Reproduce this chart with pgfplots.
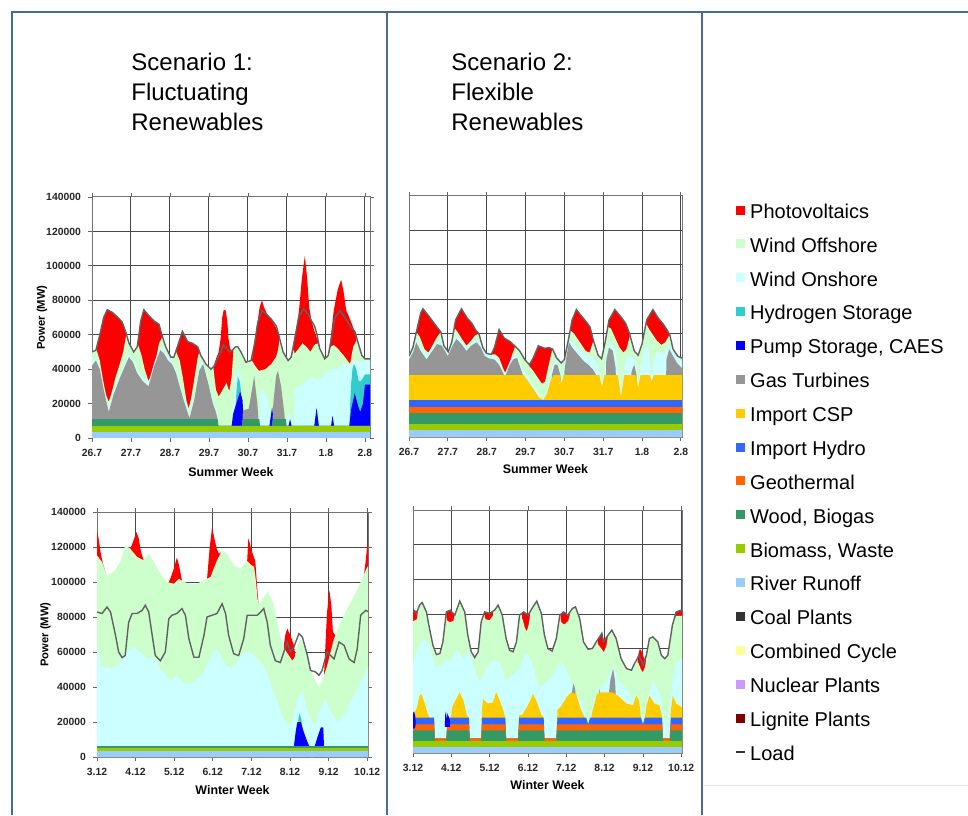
\documentclass[border=0pt]{standalone}
\usepackage{pgfplots}
\pgfplotsset{compat=1.18}
\usepackage{fontspec}
\setmainfont{Liberation Sans}
\definecolor{cPV}{HTML}{FF0000}
\definecolor{cOff}{HTML}{CCFFCC}
\definecolor{cOn}{HTML}{CCFFFF}
\definecolor{cH2}{HTML}{33CCCC}
\definecolor{cPump}{HTML}{0000FF}
\definecolor{cGas}{HTML}{969696}
\definecolor{cCSP}{HTML}{FFCC00}
\definecolor{cHyd}{HTML}{3366FF}
\definecolor{cGeo}{HTML}{FF6600}
\definecolor{cWood}{HTML}{339966}
\definecolor{cBio}{HTML}{99CC00}
\definecolor{cRiv}{HTML}{99CCFF}
\definecolor{cCoal}{HTML}{333333}
\definecolor{cCC}{HTML}{FFFF99}
\definecolor{cNuc}{HTML}{CC99FF}
\definecolor{cLig}{HTML}{800000}
\definecolor{cFrame}{HTML}{4A6A9C}
\pgfplotsset{
  panel/.style={
    scale only axis, xmin=0, ymin=0, ymax=140,
    xtick={0,1,2,3,4,5,6,7}, ytick={0,20,40,60,80,100,120,140},
    grid=major, grid style={black!72, line width=0.5pt},
    axis line style={black!55, line width=0.5pt},
    tick style={black!60, line width=0.4pt},
    tick align=outside, major tick length=2pt,
    xticklabel style={font=\bfseries\fontsize{5.2}{6}\selectfont, text=black!85},
    yticklabel style={font=\bfseries\fontsize{5.2}{6}\selectfont, text=black!85},
    xlabel style={font=\bfseries\fontsize{6.2}{7}\selectfont, anchor=center},
    ylabel style={font=\bfseries\fontsize{5.6}{6}\selectfont, anchor=center},
    clip=true,
  },
  area/.style={fill=#1, draw=none},
  loadline/.style={draw=black!62, line width=0.7pt},
  summer/.style={xticklabels={26.7,27.7,28.7,29.7,30.7,31.7,1.8,2.8}, xlabel={Summer Week}},
  winter/.style={xticklabels={3.12,4.12,5.12,6.12,7.12,8.12,9.12,10.12}, xlabel={Winter Week}},
  yfull/.style={yticklabels={0,20000,40000,60000,80000,100000,120000,140000}, ylabel={Power (MW)}},
  ynone/.style={yticklabels={}, ytick style={draw=none}},
}
\begin{document}
\begin{tikzpicture}
\path[use as bounding box] (0pt,0pt) rectangle (484pt,407.5pt);
\draw[cFrame, line width=1pt] (6pt,0pt) -- (6pt,401.5pt) -- (484pt,401.5pt);
\draw[cFrame, line width=1pt] (193.5pt,0pt) -- (193.5pt,401.5pt);
\draw[cFrame, line width=1pt] (351pt,0pt) -- (351pt,401.5pt);
\draw[black!10, line width=0.5pt] (352pt,15pt) -- (484pt,15pt);
\node[anchor=west, inner sep=0pt, align=left, font=\fontsize{12}{15}\selectfont] at (65.5pt,361.5pt) {Scenario 1:\\Fluctuating\\Renewables};
\node[anchor=west, inner sep=0pt, align=left, font=\fontsize{12}{15}\selectfont] at (225.5pt,361.5pt) {Scenario 2:\\Flexible\\Renewables};

% ---------------- Scenario 1, summer ----------------
\begin{axis}[panel, summer, yfull, at={(46pt,188.5pt)}, anchor=south west,
  width=139pt, height=120.5pt, xmax=7.13,
  xlabel style={at={(axis description cs:0.5,-0.141)}},
  ylabel style={at={(axis description cs:-0.18,0.5)}}]
\addplot[area=cPV] coordinates {(0.12,51.5)(0.2,60)(0.3,70)(0.39,74.5)(0.52,73)(0.64,70.5)(0.77,67.5)(0.86,62)(0.88,60)} \closedcycle;
\addplot[area=cPV] coordinates {(1.17,55)(1.25,68)(1.33,74.5)(1.46,71)(1.59,68)(1.72,66)(1.79,60)(1.81,59)} \closedcycle;
\addplot[area=cPV] coordinates {(2.15,50.5)(2.19,53)(2.32,62)(2.45,56)(2.58,55)(2.71,53)(2.77,50)} \closedcycle;
\addplot[area=cPV] coordinates {(3.11,41)(3.18,46)(3.25,50)(3.3,58)(3.34,70)(3.38,74.5)(3.43,74)(3.47,68)(3.5,58)(3.54,52)(3.58,51)(3.63,51.5)} \closedcycle;
\addplot[area=cPV] coordinates {(4.1,45)(4.15,52)(4.2,60)(4.25,68)(4.3,76)(4.36,80)(4.41,76)(4.47,73)(4.55,70)(4.62,68)(4.7,65)(4.76,62)(4.81,57)} \closedcycle;
\addplot[area=cPV] coordinates {(5.08,46)(5.18,55)(5.25,65)(5.31,74)(5.38,92)(5.46,106)(5.52,92)(5.57,76)(5.63,68)(5.72,61)(5.8,56)(5.84,52)} \closedcycle;
\addplot[area=cPV] coordinates {(6.07,48)(6.12,58)(6.2,74)(6.3,86)(6.39,92)(6.46,84)(6.52,74)(6.6,70)(6.67,66)(6.73,62)(6.79,57)} \closedcycle;
\addplot[area=cOff] coordinates {(0,50)(0.1,51)(0.12,51)(0.2,45)(0.28,34)(0.36,25)(0.43,21)(0.5,26)(0.6,35)(0.7,42)(0.8,50)(0.88,60)(0.95,55)(1.07,50)(1.16,53)(1.17,55)(1.27,48)(1.35,40)(1.45,33)(1.55,38)(1.65,47)(1.72,55)(1.81,59)(1.89,53)(2.02,47)(2.1,47)(2.15,50.5)(2.25,45)(2.33,35)(2.42,22)(2.48,17)(2.55,24)(2.65,38)(2.72,48)(2.77,50)(2.79,48)(2.92,43)(3.05,40)(3.11,41)(3.18,28)(3.25,24)(3.35,28)(3.45,32)(3.52,27)(3.58,35)(3.63,51.5)(3.68,53)(3.74,53)(3.82,50)(3.95,44)(4.08,45)(4.1,45)(4.18,42)(4.28,39)(4.45,40)(4.6,43)(4.72,47)(4.77,51)(4.81,57)(4.9,50)(5.03,45)(5.08,46)(5.15,52)(5.2,49)(5.3,52)(5.4,55)(5.5,53)(5.6,50)(5.7,54)(5.78,55)(5.84,52)(5.97,46)(6.06,48)(6.07,48)(6.12,53)(6.2,54)(6.3,52)(6.45,48)(6.55,45)(6.62,43)(6.7,53)(6.79,57)(6.83,55)(6.92,48)(7,46)(7.13,46)} \closedcycle;
\addplot[area=cOn] coordinates {(0,44)(0.1,47)(0.2,42)(0.3,30)(0.43,17)(0.55,27)(0.7,36)(0.85,44)(0.95,49)(1.05,46)(1.15,40)(1.3,35)(1.45,32)(1.6,44)(1.75,53)(1.85,51)(1.95,47)(2.05,45)(2.15,40)(2.35,24)(2.5,13.5)(2.62,24)(2.75,41)(2.85,45)(3.0,32)(3.1,22)(3.18,17)(3.22,13)(3.25,5)(3.58,5)(3.62,20)(3.68,35)(3.74,40)(3.8,38)(3.86,20)(3.9,5)(4.29,5)(4.31,28)(4.4,28)(4.5,22)(4.58,14)(4.62,5)(4.97,5)(5.0,12)(5.05,15)(5.12,10)(5.17,5)(5.2,28)(5.35,30)(5.5,33)(5.65,36)(5.8,33)(5.95,37)(6.1,40)(6.3,40)(6.45,43)(6.6,42)(6.75,45)(6.9,44)(7,45)(7.13,45)} \closedcycle;
\addplot[area=cH2] coordinates {(3.66,7)(3.7,25)(3.74,36)(3.8,32)(3.84,22)(3.86,7)} \closedcycle;
\addplot[area=cH2] coordinates {(6.6,7)(6.64,30)(6.68,40)(6.72,43)(6.78,40)(6.84,33)(6.9,33)(6.95,35)(7.0,37)(7.13,37)} \closedcycle;
\addplot[area=cPump] coordinates {(3.58,7)(3.62,14)(3.7,20)(3.8,27)(3.86,22)(3.9,7)} \closedcycle;
\addplot[area=cPump] coordinates {(4.55,7)(4.62,18)(4.67,7)} \closedcycle;
\addplot[area=cPump] coordinates {(5.04,7)(5.08,11)(5.12,7)} \closedcycle;
\addplot[area=cPump] coordinates {(5.7,7)(5.76,17.5)(5.82,7)} \closedcycle;
\addplot[area=cPump] coordinates {(6.13,7)(6.17,13)(6.21,7)} \closedcycle;
\addplot[area=cPump] coordinates {(6.6,7)(6.65,17)(6.74,26)(6.82,19)(6.88,15)(6.95,20)(7.0,31)(7.13,31)} \closedcycle;
\addplot[area=cGas] coordinates {(0,42)(0.1,45)(0.2,40)(0.3,28)(0.43,15)(0.55,25)(0.7,34)(0.85,42)(0.95,47)(1.05,44)(1.15,38)(1.3,33)(1.45,30)(1.6,42)(1.75,51)(1.85,49)(1.95,45)(2.05,43)(2.15,38)(2.35,22)(2.5,11.5)(2.62,22)(2.75,39)(2.85,43)(3.0,30)(3.1,20)(3.18,15)(3.22,11)(3.24,5)(3.85,5)(3.87,16)(4.02,17)(4.08,25)(4.16,36)(4.24,20)(4.29,5)(4.62,5)(4.65,20)(4.72,36)(4.77,39)(4.85,30)(4.93,15)(4.97,5)(7.13,5)} \closedcycle;
\addplot[area=cWood] coordinates {(0,11)(3.22,11)(3.24,7.2)(3.85,7.2)(3.87,11)(4.29,11)(4.31,7.2)(4.62,7.2)(4.64,11)(4.97,11)(4.99,7.2)(7.13,7.2)} \closedcycle;
\addplot[area=cBio] coordinates {(0,7.2)(7.13,7.2)} \closedcycle;
\addplot[area=cRiv] coordinates {(0,3.7)(7.13,3.7)} \closedcycle;
\addplot[loadline] coordinates {(0,50)(0.1,51)(0.2,60)(0.3,70)(0.39,74.5)(0.52,73)(0.64,70.5)(0.77,67.5)(0.86,62)(0.95,55)(1.07,50)(1.16,53)(1.25,68)(1.33,74.5)(1.46,71)(1.59,68)(1.72,66)(1.79,60)(1.89,53)(2.02,47)(2.1,47)(2.19,53)(2.32,62)(2.45,56)(2.58,55)(2.71,53)(2.79,48)(2.92,43)(3.05,40)(3.14,42)(3.22,46)(3.3,50)(3.37,54)(3.45,52)(3.52,50)(3.6,51)(3.68,53)(3.74,53)(3.82,50)(3.95,44)(4.08,45)(4.17,55)(4.25,67)(4.36,74)(4.47,72)(4.6,69)(4.73,65)(4.81,58)(4.9,50)(5.03,45)(5.11,47)(5.2,58)(5.31,71)(5.43,75)(5.54,72)(5.63,68)(5.71,65)(5.77,60)(5.84,52)(5.97,46)(6.06,48)(6.14,58)(6.23,70)(6.36,74)(6.49,70)(6.62,65)(6.74,62)(6.83,55)(6.92,48)(7,46)(7.13,46)};
\end{axis}

% ---------------- Scenario 2, summer ----------------
\begin{axis}[panel, summer, ynone, at={(204.5pt,189pt)}, anchor=south west,
  width=136.5pt, height=120.5pt, xmax=7.03,
  xlabel style={at={(axis description cs:0.5,-0.133)}}]
\addplot[area=cPV] coordinates {(0.18,61)(0.2,62)(0.3,72)(0.36,74.5)(0.5,70.5)(0.65,66)(0.75,63)(0.82,61)} \closedcycle;
\addplot[area=cPV] coordinates {(1.17,64)(1.2,68)(1.35,74.5)(1.5,69)(1.62,66)(1.72,62)(1.8,60)} \closedcycle;
\addplot[area=cPV] coordinates {(2.13,48.5)(2.2,52)(2.32,62.4)(2.45,57.5)(2.6,55.5)(2.72,53)(2.75,52.5)} \closedcycle;
\addplot[area=cPV] coordinates {(3.08,41.5)(3.2,46)(3.33,53)(3.5,51.5)(3.6,52)(3.7,51)(3.72,50.5)} \closedcycle;
\addplot[area=cPV] coordinates {(4.14,61)(4.2,68)(4.31,74)(4.45,70)(4.56,67)(4.66,64)(4.75,56)} \closedcycle;
\addplot[area=cPV] coordinates {(5.11,63)(5.15,68)(5.3,74)(5.45,70)(5.58,66)(5.68,60)(5.7,58)} \closedcycle;
\addplot[area=cPV] coordinates {(6.09,64)(6.12,68)(6.28,74)(6.42,69)(6.55,65.5)(6.65,62)(6.72,59)} \closedcycle;
\addplot[area=cOff] coordinates {(0,47)(0.1,52)(0.19,61)(0.28,58)(0.4,51)(0.5,49)(0.6,53)(0.72,58)(0.82,61)(0.9,53)(1.01,49.5)(1.1,55)(1.18,63)(1.25,61)(1.36,57)(1.48,53)(1.6,56)(1.7,59)(1.8,60)(1.9,52)(2.0,48.5)(2.12,48)(2.22,48)(2.32,46)(2.42,40)(2.48,37)(2.58,42)(2.66,48)(2.74,53)(2.85,50)(2.98,45)(3.1,41)(3.18,39)(3.3,35)(3.42,31)(3.5,32)(3.59,41)(3.68,50)(3.72,51)(3.8,46)(3.92,43)(4.0,45)(4.1,56)(4.15,62)(4.25,60)(4.4,55)(4.55,50)(4.65,49)(4.75,56)(4.87,47.5)(4.96,45.5)(5.05,55)(5.12,64)(5.2,63)(5.3,58)(5.42,52)(5.52,49)(5.6,51)(5.69,59)(5.8,50)(5.9,47.5)(6.0,54)(6.1,66)(6.2,62)(6.38,56)(6.5,53.5)(6.6,55)(6.7,59)(6.72,59)(6.8,51)(6.92,47)(7.0,46)(7.03,46)} \closedcycle;
\addplot[area=cOn] coordinates {(0,47)(0.1,51)(0.19,57)(0.3,52)(0.45,47)(0.6,52)(0.72,56)(0.85,55)(1.0,49)(1.12,55)(1.22,59)(1.35,56)(1.48,52)(1.6,55)(1.74,57)(1.85,54)(1.95,49)(2.08,47.5)(2.2,47)(2.32,44)(2.47,37)(2.6,44)(2.68,47)(2.78,48)(2.94,38)(3.0,37)(3.2,31)(3.35,25)(3.46,21)(3.55,28)(3.62,36)(3.68,40)(3.75,44)(3.82,44)(3.9,38)(3.93,33)(3.98,40)(4.05,48)(4.12,56)(4.2,56)(4.35,52)(4.5,49)(4.65,47)(4.8,45)(4.9,40)(4.97,30)(5.03,40)(5.1,52)(5.2,55)(5.3,52)(5.4,35)(5.46,25)(5.52,38)(5.6,47)(5.75,46)(5.85,44)(5.9,30)(5.96,40)(6.05,50)(6.15,55)(6.25,35)(6.3,45)(6.4,50)(6.55,48)(6.65,53)(6.75,52)(6.85,48)(6.95,45)(7.03,44)} \closedcycle;
\addplot[area=cGas] coordinates {(0,45)(0.1,49)(0.19,55)(0.3,50)(0.45,45)(0.6,50)(0.72,54)(0.85,53)(1.0,47)(1.12,53)(1.22,57)(1.35,54)(1.48,50)(1.6,53)(1.74,55)(1.85,52)(1.95,47)(2.08,45.5)(2.2,45)(2.32,42)(2.47,35)(2.6,42)(2.68,45)(2.78,46)(2.94,35.5)(2.96,10)(3.66,10)(3.68,36)(3.75,42)(3.82,42)(3.9,36)(3.92,10)(3.98,10)(4.0,38)(4.05,46)(4.12,55)(4.2,52)(4.35,48)(4.5,44)(4.62,42)(4.74,39)(4.82,36)(4.85,10)(5.05,10)(5.08,45)(5.15,52)(5.25,50)(5.32,40)(5.36,10)(5.7,10)(5.73,38)(5.8,42)(5.86,36)(5.88,10)(6.6,10)(6.63,45)(6.7,51)(6.8,47)(6.9,43)(7.03,40)} \closedcycle;
\addplot[area=cCSP] coordinates {(0,36)(2.95,36)(3.05,33)(3.2,28)(3.35,23)(3.46,21.5)(3.55,25)(3.65,33)(3.72,36)(3.88,36)(3.93,31)(3.98,36)(4.9,36)(4.97,29)(5.03,36)(5.38,36)(5.46,23.5)(5.54,36)(5.85,36)(5.9,28.5)(5.96,36)(6.2,36)(6.25,32)(6.3,36)(7.03,36)} \closedcycle;
\addplot[area=cHyd] coordinates {(0,21.5)(7.03,21.5)} \closedcycle;
\addplot[area=cGeo] coordinates {(0,17.5)(7.03,17.5)} \closedcycle;
\addplot[area=cWood] coordinates {(0,13.7)(7.03,13.7)} \closedcycle;
\addplot[area=cBio] coordinates {(0,7.8)(7.03,7.8)} \closedcycle;
\addplot[area=cRiv] coordinates {(0,4)(7.03,4)} \closedcycle;
\addplot[loadline] coordinates {(0,47)(0.1,52)(0.2,62)(0.3,72)(0.36,74.5)(0.5,70.5)(0.65,66)(0.75,63)(0.82,61)(0.9,53)(1.01,49.5)(1.1,55)(1.2,68)(1.35,74.5)(1.5,69)(1.62,66)(1.72,62)(1.8,60)(1.9,52)(2.0,48.5)(2.12,48)(2.2,52)(2.32,62.4)(2.45,57.5)(2.6,55.5)(2.72,53)(2.85,50)(2.98,45)(3.1,42)(3.2,46)(3.33,53)(3.5,51.5)(3.6,52)(3.7,51)(3.8,46)(3.92,43)(4.0,45)(4.1,56)(4.2,68)(4.31,74)(4.45,70)(4.56,67)(4.66,64)(4.75,56)(4.87,47.5)(4.96,45.5)(5.05,55)(5.15,68)(5.3,74)(5.45,70)(5.58,66)(5.68,60)(5.8,50)(5.9,47.5)(6.0,54)(6.12,68)(6.28,74)(6.42,69)(6.55,65.5)(6.65,62)(6.72,59)(6.8,51)(6.92,47)(7.0,46)(7.03,46)};
\end{axis}

% ---------------- Scenario 1, winter ----------------
\begin{axis}[panel, winter, yfull, at={(48.5pt,29pt)}, anchor=south west,
  width=135.5pt, height=122.5pt, xmax=7.02,
  xlabel style={at={(axis description cs:0.5,-0.135)}},
  ylabel style={at={(axis description cs:-0.19,0.5)}}]
\addplot[area=cPV] coordinates {(0,129.5)(0.04,125)(0.1,116)(0.16,110)(0.22,106)} \closedcycle;
\addplot[area=cPV] coordinates {(0.86,119)(0.9,121)(0.95,124)(1.02,128.6)(1.08,125)(1.14,117)(1.21,112.4)} \closedcycle;
\addplot[area=cPV] coordinates {(1.86,100)(1.9,102)(1.99,107.6)(2.07,114)(2.12,110)(2.2,101)} \closedcycle;
\addplot[area=cPV] coordinates {(2.85,101.5)(2.92,120)(2.98,131)(3.03,126)(3.1,119)(3.16,116)(3.2,117)} \closedcycle;
\addplot[area=cPV] coordinates {(3.89,112)(3.92,125)(3.96,122)(4.02,117)(4.1,112)(4.14,100)(4.18,88)(4.22,87)} \closedcycle;
\addplot[area=cPV] coordinates {(4.84,63.8)(4.88,70)(4.93,73.3)(5.01,69.5)(5.1,63.8)(5.14,58)} \closedcycle;
\addplot[area=cPV] coordinates {(5.88,46.7)(5.92,65)(5.96,82.9)(6.02,95.2)(6.07,86.7)(6.11,71.4)(6.16,70)(6.18,70)} \closedcycle;
\addplot[area=cPV] coordinates {(6.87,101)(6.91,103)(6.96,112)(7.0,121)(7.03,122)} \closedcycle;
\addplot[area=cOff] coordinates {(0,115.2)(0.13,111.4)(0.26,103.8)(0.43,105.7)(0.6,111.4)(0.73,121)(0.86,119)(1.04,114.3)(1.21,112.4)(1.34,116.2)(1.47,111.4)(1.64,104.8)(1.82,100)(1.99,99)(2.12,101.9)(2.25,100)(2.42,99)(2.59,99)(2.77,101)(2.94,102.9)(3.11,112.4)(3.24,118)(3.37,116.2)(3.54,109.5)(3.72,107.6)(3.8,110)(3.89,112)(3.98,110)(4.07,108.6)(4.12,100)(4.16,90)(4.2,87)(4.28,90)(4.37,93)(4.45,94)(4.58,86.7)(4.71,73)(4.8,63.8)(4.88,61)(4.97,58)(5.06,55)(5.12,57)(5.19,64)(5.27,67)(5.36,65.7)(5.49,54)(5.62,44.8)(5.75,40)(5.83,43)(5.88,46.7)(5.96,52)(6.05,60)(6.14,67.6)(6.31,77)(6.48,84.8)(6.66,92)(6.83,100)(7.0,108.6)(7.03,109)} \closedcycle;
\addplot[area=cOn] coordinates {(0,62)(0.13,52)(0.35,50.5)(0.52,52)(0.78,60)(0.95,63)(1.12,60)(1.3,56)(1.47,57)(1.64,50.5)(1.9,43.8)(2.07,46.7)(2.25,42)(2.42,42)(2.59,44.8)(2.77,48.6)(2.98,59)(3.11,62)(3.28,54)(3.46,50.5)(3.63,54)(3.8,60)(3.98,60)(4.15,56)(4.32,52)(4.49,42.8)(4.67,31.4)(4.84,21.9)(5.01,18)(5.19,33)(5.32,39)(5.45,25.7)(5.62,18)(5.79,27.6)(5.92,33)(6.05,26)(6.22,20)(6.4,24)(6.57,31.4)(6.74,39)(6.91,46.7)(7.03,52)} \closedcycle;
\addplot[area=cH2] coordinates {(5.18,6.2)(5.22,22)(5.25,25)(5.3,21)(5.34,6.2)} \closedcycle;
\addplot[area=cPump] coordinates {(5.1,6.2)(5.15,15)(5.19,20)(5.28,20)(5.36,14)(5.45,8.6)(5.5,6.2)} \closedcycle;
\addplot[area=cPump] coordinates {(5.64,6.2)(5.72,12)(5.8,17)(5.86,17)(5.88,6.2)} \closedcycle;
\addplot[area=cWood] coordinates {(0,6.2)(7.03,6.2)} \closedcycle;
\addplot[area=cBio] coordinates {(0,5.2)(7.03,5.2)} \closedcycle;
\addplot[area=cRiv] coordinates {(0,3.3)(7.03,3.3)} \closedcycle;
\addplot[loadline] coordinates {(0,82.9)(0.13,82)(0.26,85.7)(0.35,82.9)(0.48,69.5)(0.56,60)(0.65,56.8)(0.73,58)(0.82,77)(0.91,82)(1.04,82)(1.17,83.8)(1.25,86.7)(1.34,82.9)(1.43,69.5)(1.51,58)(1.64,55)(1.77,60)(1.86,79)(1.94,81)(2.07,82)(2.2,84.8)(2.29,81)(2.38,67.6)(2.51,57)(2.64,57)(2.77,69.5)(2.85,80)(2.98,81)(3.11,82)(3.24,87.6)(3.33,82)(3.41,69.5)(3.54,59)(3.67,58)(3.8,67.6)(3.89,81)(4.02,81)(4.15,81)(4.24,82.9)(4.32,84.8)(4.41,77)(4.49,63.8)(4.62,55)(4.75,54)(4.84,60)(4.93,65.7)(5.01,60)(5.1,62.9)(5.23,70.5)(5.32,68.6)(5.45,58)(5.53,49.5)(5.66,48.6)(5.75,46.7)(5.83,49.5)(5.96,60)(6.05,58)(6.14,56)(6.27,65.7)(6.4,63.8)(6.53,56)(6.66,54)(6.74,61.7)(6.83,81)(6.96,83.8)(7.03,83)};
\end{axis}

% ---------------- Scenario 2, winter ----------------
\begin{axis}[panel, winter, ynone, at={(206.5pt,31pt)}, anchor=south west,
  width=134.5pt, height=121.5pt, xmax=7.02,
  xlabel style={at={(axis description cs:0.5,-0.13)}}]
\addplot[area=cPV] coordinates {(0,83)(0.06,82)(0.13,82)} \closedcycle;
\addplot[area=cPV] coordinates {(0.87,81.3)(0.97,82.3)(1.09,79.4)} \closedcycle;
\addplot[area=cPV] coordinates {(1.87,81.3)(2.0,80.4)(2.09,81.5)} \closedcycle;
\addplot[area=cPV] coordinates {(2.85,80.5)(2.89,81.3)(3.0,79.4)(3.06,81.5)} \closedcycle;
\addplot[area=cPV] coordinates {(3.85,80)(3.93,81.3)(4.04,79.4)(4.1,81.5)} \closedcycle;
\addplot[area=cPV] coordinates {(4.82,65.5)(4.87,66.9)(4.93,69)(4.97,65)(5.09,67.9)} \closedcycle;
\addplot[area=cPV] coordinates {(5.86,55)(5.92,60)(5.98,58)(6.04,54)(6.1,56)} \closedcycle;
\addplot[area=cPV] coordinates {(6.85,80)(6.87,81.3)(7.0,82.3)(7.03,82.3)} \closedcycle;
\addplot[area=cOff] coordinates {(0,76)(0.1,77)(0.13,82)(0.17,85.2)(0.24,86.7)(0.35,81.3)(0.43,71.7)(0.52,62.1)(0.61,56.7)(0.7,57.3)(0.78,64)(0.87,78)(0.9,76)(0.97,75.5)(1.05,76)(1.09,79.4)(1.22,87.5)(1.35,81.3)(1.43,67.9)(1.52,58.3)(1.61,55)(1.7,58.3)(1.78,75.6)(1.85,79)(1.9,77)(2.0,76.5)(2.08,79)(2.13,82.3)(2.22,85.2)(2.33,79.4)(2.43,66)(2.52,59.2)(2.61,58.3)(2.7,64)(2.78,79.4)(2.86,77)(2.92,72)(2.97,70)(3.02,74)(3.06,80)(3.13,84.2)(3.23,87.5)(3.35,80.4)(3.43,67.9)(3.52,60.2)(3.63,58.7)(3.74,66)(3.83,78)(3.88,75)(3.95,74)(4.05,76)(4.1,80)(4.16,83.3)(4.24,84.2)(4.35,77.5)(4.45,64)(4.57,59.8)(4.68,60.2)(4.78,64)(4.85,62)(4.92,60)(4.98,58)(5.05,62)(5.09,67.9)(5.19,70.8)(5.3,66)(5.43,54.4)(5.57,48.7)(5.7,47.7)(5.78,51.5)(5.88,52)(5.95,48)(6.0,46.5)(6.06,50)(6.1,56.3)(6.17,66)(6.26,66.9)(6.39,64)(6.48,56.3)(6.57,54.4)(6.65,56.3)(6.77,73.7)(6.87,79)(7.0,79)(7.03,79)} \closedcycle;
\addplot[area=cOn] coordinates {(0,50.6)(0.09,58.3)(0.22,64)(0.35,66)(0.48,58.3)(0.61,48.7)(0.74,50.6)(0.87,54.4)(1.0,52.5)(1.13,60.2)(1.3,54.4)(1.48,58.3)(1.65,44.8)(1.74,41)(1.91,48.7)(2.09,53.5)(2.26,52.5)(2.43,41)(2.61,44.8)(2.78,48.7)(2.96,58.3)(3.13,50.6)(3.3,37.1)(3.48,41)(3.65,44.8)(3.83,52.5)(4.0,48.7)(4.13,41)(4.26,33.3)(4.43,29.4)(4.57,16)(4.7,29.4)(4.87,37.1)(5.04,41)(5.22,50.6)(5.39,41)(5.57,37.1)(5.74,31.3)(5.91,27.5)(6.0,16)(6.09,29.4)(6.26,41)(6.43,35.2)(6.61,14)(6.7,29.4)(6.78,41)(6.87,52.5)(7.03,54.4)} \closedcycle;
\addplot[area=cGas] coordinates {(4.13,30)(4.16,37)(4.19,40)(4.23,37)(4.26,30)} \closedcycle;
\addplot[area=cGas] coordinates {(4.83,30)(4.87,37)(4.91,30)} \closedcycle;
\addplot[area=cGas] coordinates {(5.09,30)(5.15,42)(5.22,48.7)(5.27,42)(5.3,30)} \closedcycle;
\addplot[area=cCSP] coordinates {(0,21)(0.1,26)(0.17,33)(0.22,34)(0.3,29)(0.38,23)(0.43,20.4)(0.55,20.4)(0.57,8.5)(0.87,8.5)(0.9,20.4)(0.99,20.4)(1.02,26)(1.1,30)(1.22,35)(1.32,30)(1.4,22)(1.46,20.4)(1.48,8.5)(1.78,8.5)(1.8,25)(1.83,31)(1.95,28.5)(2.08,29)(2.17,35)(2.25,31)(2.35,25)(2.41,20.4)(2.43,8.5)(2.74,8.5)(2.77,22)(2.85,22)(3.0,27.5)(3.13,34)(3.22,30)(3.35,22)(3.41,20.4)(3.43,8.5)(3.74,8.5)(3.77,25)(3.87,27)(4.0,32)(4.13,35)(4.26,34)(4.38,25)(4.47,21)(4.52,16)(4.57,15)(4.63,16)(4.67,23)(4.8,34)(4.9,35)(5.2,35)(5.35,33)(5.57,28.5)(5.74,27.5)(5.83,33)(5.9,30)(5.95,20)(6.0,16)(6.05,20)(6.09,27)(6.17,33)(6.3,28.5)(6.43,27.5)(6.5,21)(6.52,8.5)(6.7,8.5)(6.73,25)(6.78,33)(6.87,28.5)(7.0,26.5)(7.03,26.5)} \closedcycle;
\addplot[area=cHyd] coordinates {(0,20.4)(0.55,20.4)(0.57,8.5)(0.87,8.5)(0.9,20.4)(1.46,20.4)(1.48,8.5)(1.78,8.5)(1.8,20.4)(2.41,20.4)(2.43,8.5)(2.74,8.5)(2.77,20.4)(3.41,20.4)(3.43,8.5)(3.74,8.5)(3.77,20.4)(4.52,20.4)(4.57,16.5)(4.62,20.4)(5.95,20.4)(6.0,16.5)(6.05,20.4)(6.5,20.4)(6.52,8.5)(6.7,8.5)(6.73,20.4)(7.03,20.4)} \closedcycle;
\addplot[area=cGeo] coordinates {(0,16.5)(0.55,16.5)(0.57,8.5)(0.87,8.5)(0.9,16.5)(1.46,16.5)(1.48,8.5)(1.78,8.5)(1.8,16.5)(2.41,16.5)(2.43,8.5)(2.74,8.5)(2.77,16.5)(3.41,16.5)(3.43,8.5)(3.74,8.5)(3.77,16.5)(6.5,16.5)(6.52,8.5)(6.7,8.5)(6.73,16.5)(7.03,16.5)} \closedcycle;
\addplot[area=cWood] coordinates {(0,13)(0.55,13)(0.57,6.7)(0.87,6.7)(0.9,13)(1.46,13)(1.48,6.7)(1.78,6.7)(1.8,13)(2.41,13)(2.43,6.7)(2.74,6.7)(2.77,13)(3.41,13)(3.43,6.7)(3.74,6.7)(3.77,13)(6.5,13)(6.52,6.7)(6.7,6.7)(6.73,13)(7.03,13)} \closedcycle;
\addplot[area=cBio] coordinates {(0,6.7)(7.03,6.7)} \closedcycle;
\addplot[area=cRiv] coordinates {(0,3.5)(7.03,3.5)} \closedcycle;
\addplot[area=cPump] coordinates {(0,14)(0,23)(0.03,24)(0.06,21)(0.07,17)(0.06,15)(0.03,14)} -- cycle;
\addplot[area=cPump] coordinates {(0.83,15)(0.84,22)(0.86,24)(0.88,19)(0.9,23)(0.93,21)(0.96,19)(0.96,15)} -- cycle;
\addplot[loadline] coordinates {(0,82.3)(0.09,80.4)(0.17,85.2)(0.24,86.7)(0.35,81.3)(0.43,71.7)(0.52,62.1)(0.61,56.7)(0.7,57.3)(0.78,64)(0.87,81.3)(0.97,82.3)(1.09,79.4)(1.22,87.5)(1.35,81.3)(1.43,67.9)(1.52,58.3)(1.61,55)(1.7,58.3)(1.78,75.6)(1.87,81.3)(2.0,80.4)(2.13,82.3)(2.22,85.2)(2.33,79.4)(2.43,66)(2.52,59.2)(2.61,58.3)(2.7,64)(2.78,79.4)(2.89,81.3)(3.0,79.4)(3.13,84.2)(3.23,87.5)(3.35,80.4)(3.43,67.9)(3.52,60.2)(3.63,58.7)(3.74,66)(3.83,79.4)(3.93,81.3)(4.04,79.4)(4.16,83.3)(4.24,84.2)(4.35,77.5)(4.45,64)(4.57,59.8)(4.68,60.2)(4.78,64)(4.87,66.9)(4.93,69)(4.97,64)(5.09,67.9)(5.19,70.8)(5.3,66)(5.43,54.4)(5.57,48.7)(5.7,47.7)(5.78,51.5)(5.9,56.3)(6.0,50.6)(6.09,56.3)(6.17,66)(6.26,66.9)(6.39,64)(6.48,56.3)(6.57,54.4)(6.65,56.3)(6.77,73.7)(6.87,81.3)(7.0,82.3)(7.03,82.3)};
\end{axis}

% ---------------- Legend ----------------
\begin{axis}[hide axis, scale only axis, width=1pt, height=1pt,
  at={(367.5pt,306pt)}, anchor=north west, xmin=0, xmax=1, ymin=0, ymax=1,
  legend cell align=left,
  legend image code/.code={\fill[#1] (0pt,-0.6pt) rectangle (4.5pt,3.9pt);},
  legend style={at={(0,1)}, anchor=north west, draw=none, fill=none,
    inner sep=0pt, font=\fontsize{10}{12}\selectfont, row sep=6.93pt,
    column sep=2.3pt,
    nodes={inner sep=0pt, text height=7.5pt, text depth=2.5pt}}]
\addlegendimage{fill=cPV, draw=none}\addlegendentry{Photovoltaics}
\addlegendimage{fill=cOff, draw=none}\addlegendentry{Wind Offshore}
\addlegendimage{fill=cOn, draw=none}\addlegendentry{Wind Onshore}
\addlegendimage{fill=cH2, draw=none}\addlegendentry{Hydrogen Storage}
\addlegendimage{fill=cPump, draw=none}\addlegendentry{Pump Storage, CAES}
\addlegendimage{fill=cGas, draw=none}\addlegendentry{Gas Turbines}
\addlegendimage{fill=cCSP, draw=none}\addlegendentry{Import CSP}
\addlegendimage{fill=cHyd, draw=none}\addlegendentry{Import Hydro}
\addlegendimage{fill=cGeo, draw=none}\addlegendentry{Geothermal}
\addlegendimage{fill=cWood, draw=none}\addlegendentry{Wood, Biogas}
\addlegendimage{fill=cBio, draw=none}\addlegendentry{Biomass, Waste}
\addlegendimage{fill=cRiv, draw=none}\addlegendentry{River Runoff}
\addlegendimage{fill=cCoal, draw=none}\addlegendentry{Coal Plants}
\addlegendimage{fill=cCC, draw=none}\addlegendentry{Combined Cycle}
\addlegendimage{fill=cNuc, draw=none}\addlegendentry{Nuclear Plants}
\addlegendimage{fill=cLig, draw=none}\addlegendentry{Lignite Plants}
\addlegendimage{legend image code/.code={\draw[black!80, line width=0.6pt] (0pt,1.6pt) -- (4.5pt,1.6pt);}}\addlegendentry{Load}
\end{axis}
\end{tikzpicture}
\end{document}
